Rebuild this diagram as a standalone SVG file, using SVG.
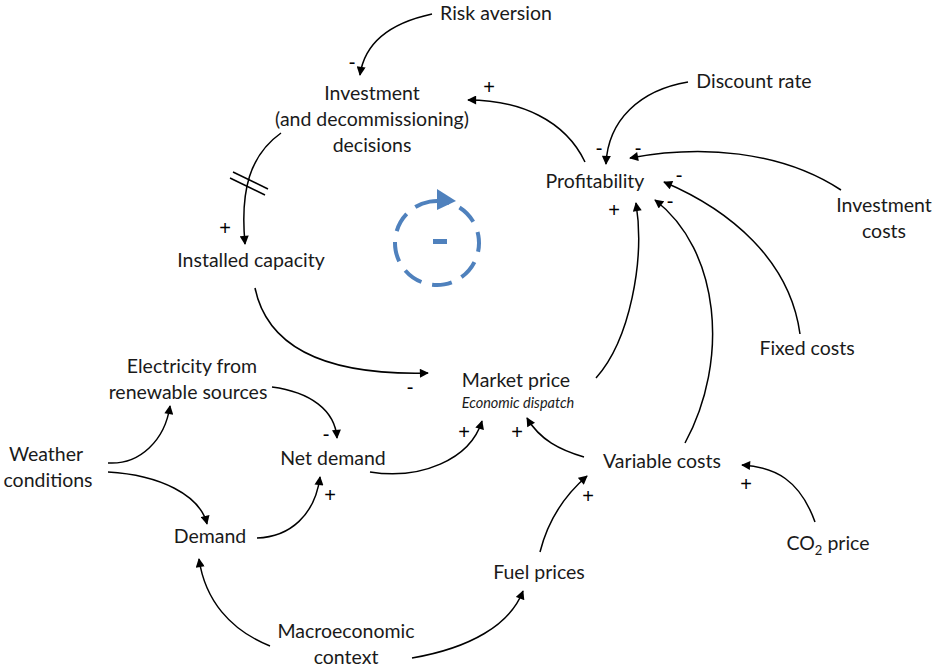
<svg xmlns="http://www.w3.org/2000/svg" width="933" height="668" viewBox="0 0 933 668">
<style>
text{font-family:Lato,"Open Sans","Liberation Sans",sans-serif;font-size:19.5px;fill:#1a1a1a;text-anchor:middle}
#signs text{font-family:"Liberation Sans",Arial,sans-serif;font-size:20px;fill:#000}
.it{font-style:italic;font-size:14.5px}
.c path{fill:none;stroke:#000;stroke-width:1.5;marker-end:url(#ah)}
.loop{fill:none;stroke:#4f81bd;stroke-width:4}
</style>
<defs>
<marker id="ah" viewBox="0 0 10 10" refX="9" refY="5" markerWidth="10" markerHeight="9" markerUnits="userSpaceOnUse" orient="auto">
<path d="M0,0 L10,5 L0,10 Z" fill="#000"/>
</marker>
</defs>
<rect width="933" height="668" fill="#fff"/>

<g id="connectors" class="c">
<path d="M432,14 C395,22 365,40 360,75"/>
<path d="M585,162 C565,120 520,100 468,100"/>
<path d="M281,133 C250,155 240,190 245,244"/>
<path d="M688,82 C640,90 608,120 606,164"/>
<path d="M841,190 C780,150 700,145 630,158"/>
<path d="M800,334 C790,260 730,210 664,182"/>
<path d="M685,443 C730,360 720,250 655,200"/>
<path d="M596,378 C630,340 645,260 636,203"/>
<path d="M255,288 C270,360 350,375 428,373"/>
<path d="M272,387 C310,392 335,410 337,438"/>
<path d="M108,463 C140,465 165,440 170,406"/>
<path d="M108,472 C160,475 200,495 207,524"/>
<path d="M257,538 C290,537 315,515 320,477"/>
<path d="M370,472 C420,480 470,460 482,421"/>
<path d="M584,457 C560,450 540,440 527,418"/>
<path d="M540,552 C548,520 565,495 587,476"/>
<path d="M815,522 C800,480 775,467 742,465"/>
<path d="M270,646 C230,630 205,600 199,559"/>
<path d="M412,658 C470,648 510,625 523,591"/>
<line x1="233" y1="172" x2="268" y2="189" stroke="#000" stroke-width="1.5"/>
<line x1="230" y1="178" x2="265" y2="195" stroke="#000" stroke-width="1.5"/>
</g>

<g id="signs">
<text x="352" y="69">-</text>
<text x="489" y="94">+</text>
<text x="225" y="235">+</text>
<text x="599" y="155">-</text>
<text x="638" y="155">-</text>
<text x="679" y="182">-</text>
<text x="670" y="208">-</text>
<text x="614" y="217">+</text>
<text x="410" y="394">-</text>
<text x="326" y="441">-</text>
<text x="330" y="502">+</text>
<text x="464" y="439">+</text>
<text x="517" y="439">+</text>
<text x="588" y="503">+</text>
<text x="746" y="491">+</text>
</g>

<g id="loop">
<circle class="loop" cx="437" cy="243" r="42" stroke-dasharray="20 11" transform="rotate(-100 437 243)"/>
<polygon points="437,189 456,201 437,210" fill="#4f81bd"/>
<rect x="433" y="239" width="14" height="5" fill="#4f81bd"/>
</g>

<g id="risk-aversion"><text x="496" y="20">Risk aversion</text></g>
<g id="investment"><text x="372" y="100">Investment</text><text x="372" y="126">(and decommissioning)</text><text x="372" y="152">decisions</text></g>
<g id="discount-rate"><text x="754" y="88">Discount rate</text></g>
<g id="profitability"><text x="595" y="188">Profitability</text></g>
<g id="investment-costs"><text x="884" y="212">Investment</text><text x="884" y="238">costs</text></g>
<g id="installed-capacity"><text x="251" y="267">Installed capacity</text></g>
<g id="fixed-costs"><text x="807" y="355">Fixed costs</text></g>
<g id="electricity-renewable"><text x="192" y="373">Electricity from</text><text x="188" y="399">renewable sources</text></g>
<g id="market-price"><text x="516" y="387">Market price</text><text class="it" x="518" y="408">Economic dispatch</text></g>
<g id="weather"><text x="46" y="461">Weather</text><text x="48" y="487">conditions</text></g>
<g id="net-demand"><text x="333" y="465">Net demand</text></g>
<g id="variable-costs"><text x="662" y="468">Variable costs</text></g>
<g id="demand"><text x="210" y="543">Demand</text></g>
<g id="co2-price"><text x="828" y="550">CO<tspan font-size="13" dy="5">2</tspan><tspan dy="-5"> price</tspan></text></g>
<g id="fuel-prices"><text x="539" y="579">Fuel prices</text></g>
<g id="macroeconomic"><text x="346" y="638">Macroeconomic</text><text x="346" y="664">context</text></g>
</svg>
